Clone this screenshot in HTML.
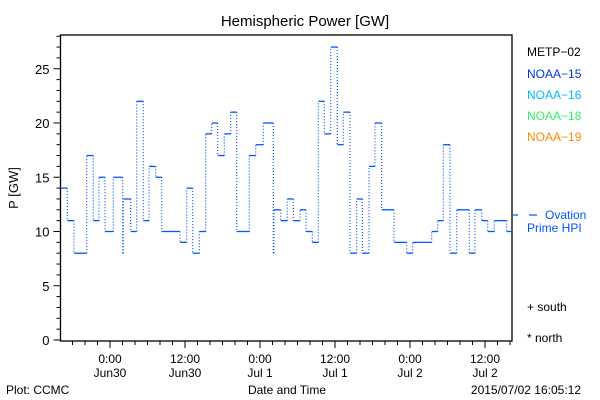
<!DOCTYPE html>
<html><head><meta charset="utf-8"><style>
body{margin:0;background:#fff;}
svg{display:block;font-family:"Liberation Sans",sans-serif;}
</style></head><body>
<svg id="chart" width="600" height="400" viewBox="0 0 600 400">
<rect width="600" height="400" fill="#fff"/>
<text x="305" y="26" font-size="15" text-anchor="middle">Hemispheric Power [GW]</text>
<g id="axes"></g>
<g id="series"></g>
<g font-size="12">
<text x="527" y="56" fill="#000">METP−02</text>
<text x="527" y="78" fill="#0033dd">NOAA−15</text>
<text x="527" y="99" fill="#00bbff">NOAA−16</text>
<text x="527" y="120" fill="#33ee66">NOAA−18</text>
<text x="527" y="141" fill="#ff8800">NOAA−19</text>
<line x1="513" y1="215" x2="518" y2="215" stroke="#0055ff" stroke-width="1.2"/>
<line x1="529" y1="215" x2="537" y2="215" stroke="#0055ff" stroke-width="1.2"/>
<text x="545" y="219" fill="#0055ff">Ovation</text>
<text x="527" y="232" fill="#0055ff">Prime HPI</text>
<text x="527" y="311" fill="#000">+ south</text>
<text x="527" y="342" fill="#000">* north</text>
</g>
<text x="6" y="394" font-size="12">Plot: CCMC</text>
<text x="287" y="394" font-size="12" text-anchor="middle">Date and Time</text>
<text x="581" y="394" font-size="12" text-anchor="end">2015/07/02 16:05:12</text>
<text x="0" y="0" font-size="13" text-anchor="middle" transform="translate(18,188) rotate(-90)">P [GW]</text>
</svg>
<script>
// hours relative to Jun30 00:00
const stepTimes = [-7.89,-6.83,-5.76,-3.73,-2.67,-1.76,-0.8,0.53,2.03,2.13,3.31,4.27,5.33,6.24,7.31,8.27,11.2,12.27,13.23,14.29,15.31,16.27,17.23,18.29,19.31,20.27,22.29,23.31,24.53,26.13,26.24,27.31,28.37,29.33,30.4,31.36,32.37,33.33,34.29,35.31,36.37,37.33,38.4,39.47,40.37,41.44,42.4,43.47,45.44,47.47,48.43,51.47,52.43,53.33,54.4,55.47,57.49,58.4,59.47,60.43,61.49,63.47];
const powerValues = [14,11,8,17,11,15,10,15,8,13,10,22,11,16,15,10,9,14,8,10,19,20,17,19,21,10,17,18,20,8,12,11,13,11,12,10,9,22,19,27,18,21,8,13,8,16,20,12,9,8,9,10,11,18,8,12,8,12,11,10,11,10];
const endTime = 64.37;
const yTicks = [0,5,10,15,20,25];
const xTickHours = [0,12,24,36,48,60];
const xTickLine1 = ["0:00","12:00","0:00","12:00","0:00","12:00"];
const xTickLine2 = ["Jun30","Jun30","Jul 1","Jul 1","Jul 2","Jul 2"];

const L=60.5,R=512,T=35,B=341;
const xs=h=>110+h*6.25;
const ys=v=>340-v*10.85;
const NS='http://www.w3.org/2000/svg';
function mk(tag,attrs,parent){const e=document.createElementNS(NS,tag);for(const k in attrs)e.setAttribute(k,attrs[k]);parent.appendChild(e);return e;}
const axes=document.getElementById('axes'),ser=document.getElementById('series');

const frame=mk('rect',{x:L,y:T,width:R-L,height:B-T,fill:'none',stroke:'#000','stroke-width':1.3},axes);


for(let v=0;v<=28;v++){
  const len=(v%5===0)?7:4;
  const t=mk('line',{x1:L-len,x2:L,y1:ys(v),y2:ys(v),stroke:'#000','stroke-width':1},axes);
  
  
}
yTicks.forEach(v=>{
  const t=mk('text',{x:L-11,y:ys(v)+5,'font-size':13,'text-anchor':'end'},axes);
  t.textContent=v;
  
  
});
for(let h=-6;h<=64;h+=2){
  const len=(h%12===0)?7:4;
  const t=mk('line',{x1:xs(h),x2:xs(h),y1:B,y2:B+len,stroke:'#000','stroke-width':1},axes);
  
  
}
xTickHours.forEach((h,i)=>{
  const a=mk('text',{x:xs(h),y:363,'font-size':12,'text-anchor':'middle'},axes);
  a.textContent=xTickLine1[i];
  
  
  const b=mk('text',{x:xs(h),y:377,'font-size':12,'text-anchor':'middle'},axes);
  b.textContent=xTickLine2[i];
  
  
});
const C='#0055ff';
for(let i=0;i<powerValues.length;i++){
  const x1=xs(stepTimes[i]),x2=xs(i+1<stepTimes.length?stepTimes[i+1]:endTime),y=ys(powerValues[i]);
  const h=mk('line',{x1:x1,x2:x2,y1:y,y2:y,stroke:C,'stroke-width':1.3},ser);
  
  
  if(i+1<powerValues.length){
    const v=mk('line',{x1:x2,x2:x2,y1:y,y2:ys(powerValues[i+1]),stroke:C,'stroke-width':1.2,'stroke-dasharray':'1 2'},ser);
    
    
  }
}
</script>
</body></html>
